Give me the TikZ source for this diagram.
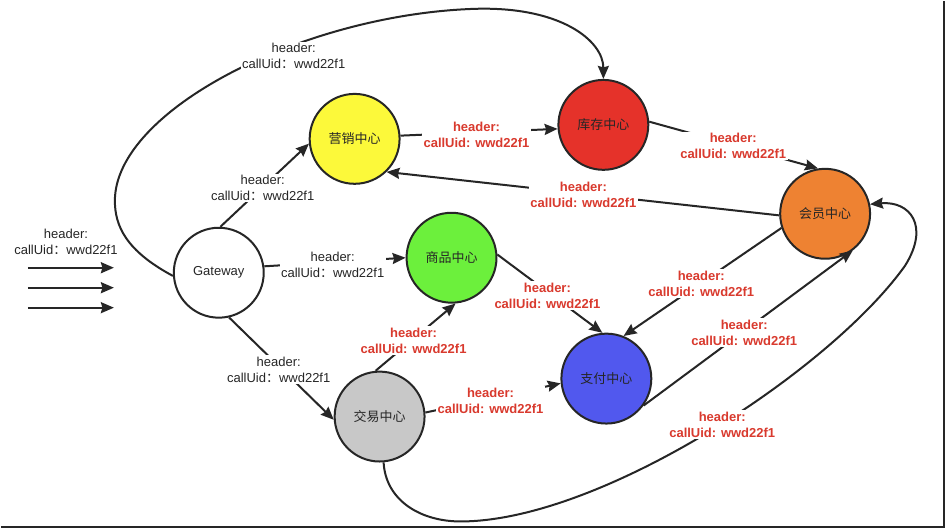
\documentclass[tikz,border=0pt]{standalone}
\usepackage{fontspec}
\setmainfont{Liberation Sans}
\newfontfamily\cjk{Noto Sans CJK SC}
\usepackage{tikz}
\usetikzlibrary{arrows.meta}
\definecolor{mktfill}{HTML}{FCF93A}
\definecolor{stockfill}{HTML}{E5322A}
\definecolor{memberfill}{HTML}{EE8232}
\definecolor{goodsfill}{HTML}{6CF03C}
\definecolor{payfill}{HTML}{5158EE}
\definecolor{tradefill}{HTML}{C8C8C8}
\definecolor{hdrcol}{HTML}{D93A2E}
\definecolor{ink}{HTML}{262626}
\newcommand{\hdrtxt}{header:\\callUid{\cjk ：}wwd22f1}
\newcommand{\redhdr}{header:\\callUid: wwd22f1}
\tikzset{
  >={Stealth[length=13pt,width=11pt,inset=1.5pt]},
  svc/.style={circle,draw=ink,line width=2pt,minimum size=90pt,inner sep=0pt,
    font=\cjk\fontsize{13}{15}\selectfont,text=ink},
  call/.style={->,line width=2pt,draw=ink},
  hdr/.style={align=center,fill=white,inner sep=1.5pt,text=ink,
    font=\fontsize{13}{16}\selectfont},
  hdrr/.style={hdr,text=hdrcol,font=\bfseries\fontsize{13}{16}\selectfont},
}

\begin{document}
\begin{tikzpicture}[x=1pt,y=-1pt]
  \fill[white] (0,0) rectangle (945,529);
  \draw[line width=2pt,ink] (0,527) -- (944,527) -- (944,0);

  % services
  \node[svc,fill=white,font=\fontsize{13}{15}\selectfont] (gw) at (218,272) {Gateway};
  \node[svc,fill=mktfill] (mkt) at (354,138) {营销中心};
  \node[svc,fill=stockfill] (stock) at (603,124) {库存中心};
  \node[svc,fill=memberfill] (member) at (825,213) {会员中心};
  \node[svc,fill=goodsfill] (goods) at (451,257) {商品中心};
  \node[svc,fill=payfill] (pay) at (606,378) {支付中心};
  \node[svc,fill=tradefill] (trade) at (379,416) {交易中心};

  % incoming requests
  \coordinate (req1) at (27,267);
  \coordinate (req2) at (27,287);
  \coordinate (req3) at (27,307);
  \coordinate (gwin1) at (113,267);
  \coordinate (gwin2) at (113,287);
  \coordinate (gwin3) at (113,307);
  \draw[call] (req1) -- (gwin1);
  \draw[call] (req2) -- (gwin2);
  \draw[call] (req3) -- (gwin3);

  % calls
  \draw[call] (gw.88) -- (mkt.186);
  \draw[call] (gw.8) -- (goods.180);
  \draw[call] (gw.-77) -- (trade.184);
  \draw[call] (gw.184) .. controls (125,250) and (114,225) .. (114,200)
    .. controls (114,110) and (300,15) .. (470,8)
    .. controls (560,4) and (603,40) .. (stock.north);
  \draw[call] (mkt.4) -- (stock.185);
  \draw[call] (stock.4) -- (member.99);
  \draw[call] (member.182) -- (mkt.-46);
  \draw[call] (goods.4) -- (pay.95);
  \draw[call] (member.198) -- (pay.68);
  \draw[call] (pay.-36) -- (member.-53);
  \draw[call] (trade.95) -- (goods.-85);
  \draw[call] (trade.5) -- (pay.186);
  \draw[call] (trade.-85) .. controls (385,500) and (420,521) .. (460,521)
    .. controls (600,521) and (830,370) .. (905,265)
    .. controls (930,225) and (910,200) .. (member.12);

  % header labels
  \node[hdr] (l-in) at (65,241) {\hdrtxt};
  \node[hdr] (l-top) at (293,55) {\hdrtxt};
  \node[hdr] (l-mkt) at (262,187) {\hdrtxt};
  \node[hdr] (l-goods) at (332,264) {\hdrtxt};
  \node[hdr] (l-trade) at (278,369) {\hdrtxt};
  \node[hdrr] (l-ms) at (476,134) {\redhdr};
  \node[hdrr] (l-sm) at (733,145) {\redhdr};
  \node[hdrr] (l-mm) at (583,194) {\redhdr};
  \node[hdrr] (l-gp) at (547,295) {\redhdr};
  \node[hdrr] (l-mp) at (701,283) {\redhdr};
  \node[hdrr] (l-pm) at (744,332) {\redhdr};
  \node[hdrr] (l-tm) at (722,424) {\redhdr};
  \node[hdrr] (l-tg) at (413,340) {\redhdr};
  \node[hdrr] (l-tp) at (490,400) {\redhdr};
\end{tikzpicture}
\end{document}
